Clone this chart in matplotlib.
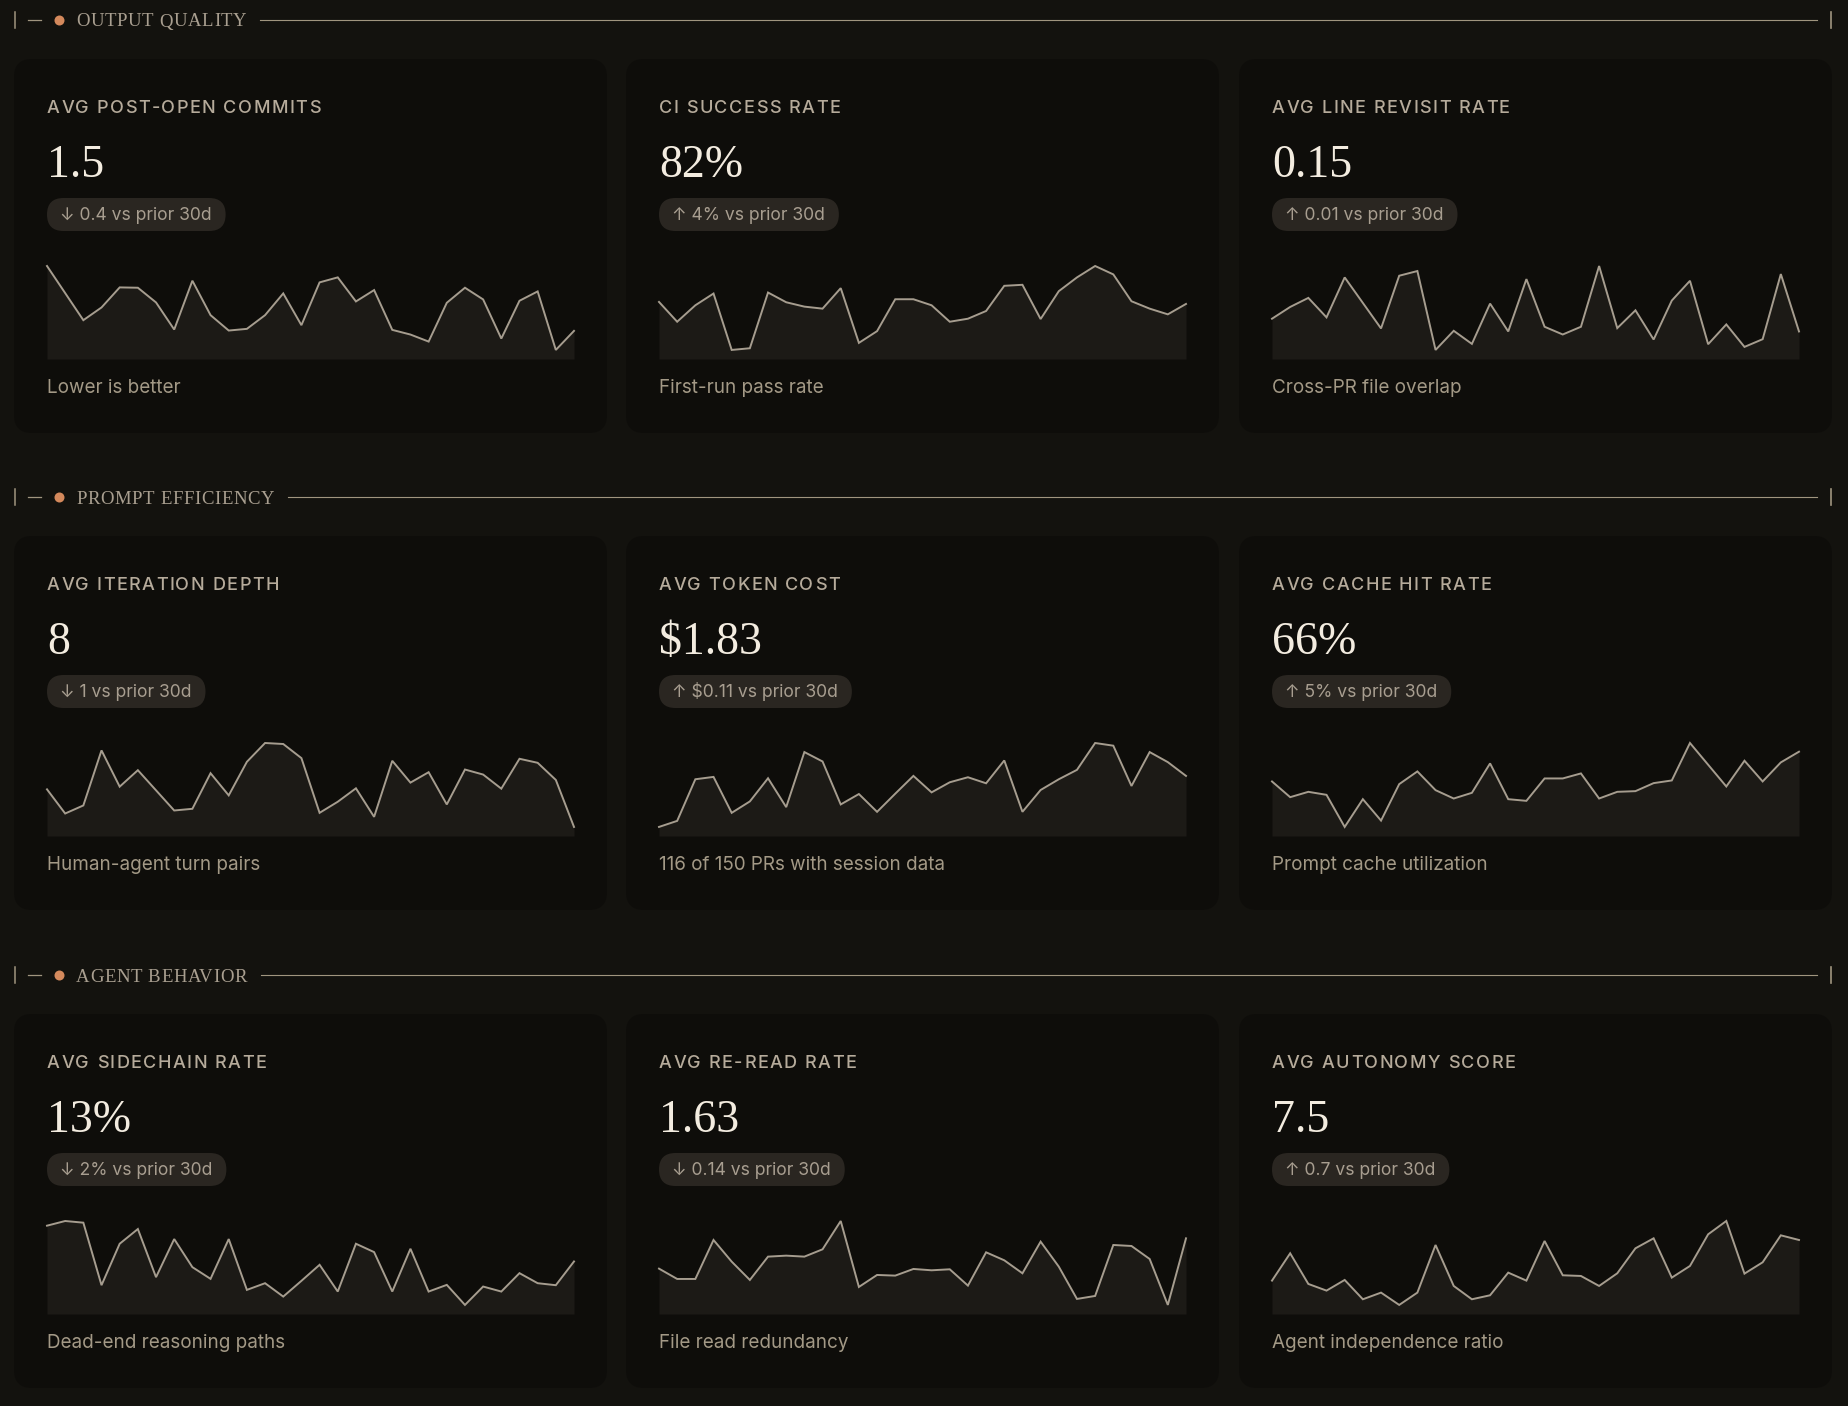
import matplotlib
matplotlib.use("Agg")
import matplotlib.pyplot as plt
from matplotlib.patches import FancyBboxPatch, Circle
from matplotlib.font_manager import FontProperties

W, H = 1848, 1406

# palette
BG = "#13120e"
CARD_BG = "#0e0d0a"
SPARK_FILL = "#1c1a16"
SPARK_LINE = "#a69d8f"
TITLE_C = "#b6ab9b"
VALUE_C = "#f3ece0"
PILL_BG = "#2a2621"
PILL_TXT = "#a89e90"
NOTE_C = "#a39986"
RULE_C = "#a0957f"
DOT_C = "#d4895c"

SANS = ["Inter", "DejaVu Sans"]
SERIF = ["Liberation Serif", "DejaVu Serif"]

section_names = ["OUTPUT QUALITY", "PROMPT EFFICIENCY", "AGENT BEHAVIOR"]

card_titles = ["AVG POST-OPEN COMMITS", "CI SUCCESS RATE", "AVG LINE REVISIT RATE",
               "AVG ITERATION DEPTH", "AVG TOKEN COST", "AVG CACHE HIT RATE",
               "AVG SIDECHAIN RATE", "AVG RE-READ RATE", "AVG AUTONOMY SCORE"]
card_values = ["1.5", "82%", "0.15", "8", "$1.83", "66%", "13%", "1.63", "7.5"]
card_deltas = ["↓ 0.4 vs prior 30d", "↑ 4% vs prior 30d", "↑ 0.01 vs prior 30d",
               "↓ 1 vs prior 30d", "↑ $0.11 vs prior 30d", "↑ 5% vs prior 30d",
               "↓ 2% vs prior 30d", "↓ 0.14 vs prior 30d", "↑ 0.7 vs prior 30d"]
card_notes = ["Lower is better", "First-run pass rate", "Cross-PR file overlap",
              "Human-agent turn pairs", "116 of 150 PRs with session data", "Prompt cache utilization",
              "Dead-end reasoning paths", "File read redundancy", "Agent independence ratio"]

# 30 daily points per sparkline (relative level)
spark_post_open = [278, 197, 116, 154, 214, 213, 169, 88, 234, 131, 85, 90, 131, 196, 101,
                   229, 244, 172, 206, 87, 73, 52, 168, 213, 178, 61, 174, 202, 27, 84]
spark_ci_success = [171, 112, 161, 196, 28, 33, 199, 170, 157, 151, 212, 49, 84, 179, 179,
                    161, 112, 121, 144, 219, 222, 120, 203, 244, 278, 253, 173, 151, 134, 165]
spark_line_revisit = [121, 156, 183, 125, 244, 168, 92, 249, 263, 28, 85, 46, 166, 83, 239,
                      97, 74, 97, 278, 93, 146, 59, 175, 234, 45, 104, 37, 60, 254, 83]
spark_iter_depth = [140, 68, 92, 256, 148, 197, 137, 77, 82, 188, 122, 222, 278, 275, 233,
                    70, 103, 143, 58, 225, 160, 191, 95, 199, 184, 142, 231, 219, 168, 28]
spark_token_cost = [28, 46, 170, 177, 70, 104, 173, 87, 251, 223, 95, 126, 73, 127, 180,
                    131, 161, 176, 158, 226, 73, 138, 170, 198, 278, 270, 150, 251, 221, 180]
spark_cache_hit = [163, 116, 132, 123, 27, 110, 46, 155, 193, 137, 112, 129, 217, 110, 105,
                   172, 172, 187, 112, 132, 134, 158, 166, 278, 213, 148, 225, 163, 220, 252]
spark_sidechain = [263, 277, 272, 85, 209, 253, 109, 223, 139, 104, 223, 71, 91, 51, 98,
                   146, 66, 209, 184, 66, 194, 66, 86, 26, 81, 66, 121, 91, 85, 156]
spark_reread = [135, 104, 104, 221, 156, 101, 171, 174, 171, 193, 278, 80, 116, 114, 134,
                130, 133, 84, 184, 160, 121, 216, 141, 44, 53, 206, 203, 164, 26, 226]
spark_autonomy = [99, 181, 89, 69, 101, 43, 63, 26, 63, 206, 83, 43, 55, 123, 99,
                  218, 115, 113, 83, 121, 196, 226, 108, 143, 238, 278, 120, 154, 235, 221]

card_series = [spark_post_open, spark_ci_success, spark_line_revisit,
               spark_iter_depth, spark_token_cost, spark_cache_hit,
               spark_sidechain, spark_reread, spark_autonomy]

# layout (pixels)
col_x = [14, 626, 1239]
row_top = [59, 536, 1014]
card_w, card_h = 593, 374
pad = 33
spark_w, spark_h = 527, 93

fig = plt.figure(figsize=(W / 100, H / 100), dpi=100, facecolor=BG)
bg = fig.add_axes([0, 0, 1, 1])
bg.set_xlim(0, W)
bg.set_ylim(H, 0)
bg.axis("off")
renderer = fig.canvas.get_renderer()

title_fp = FontProperties(family=SANS, size=13, weight="medium")
value_fp = FontProperties(family=SERIF, size=33)
pill_fp = FontProperties(family=SANS, size=12.6)
note_fp = FontProperties(family=SANS, size=13.6)
head_fp = FontProperties(family=SERIF, size=13.5)


def text_w(s, prop):
    return renderer.get_text_width_height_descent(s, prop, ismath=False)[0]


def tracked(x, y, s, prop, color, track):
    # draw text letter by letter so it gets letter-spacing
    for i, ch in enumerate(s):
        if ch == " ":
            continue
        dx = text_w(s[:i + 1], prop) - text_w(ch, prop)
        bg.text(x + dx + i * track, y, ch, fontproperties=prop, color=color,
                va="baseline", ha="left", parse_math=False)
    return x + text_w(s, prop) + (len(s) - 1) * track


# section headers
for r, name in enumerate(section_names):
    hy = row_top[r] - 39
    bg.plot([14.5, 14.5], [hy - 8, hy + 8], color=RULE_C, lw=1.1)
    bg.plot([28, 41], [hy, hy], color=RULE_C, lw=0.9)
    bg.add_patch(Circle((59.5, hy + 0.5), 5, color=DOT_C, lw=0))
    x_end = tracked(76, hy + 6.5, name, head_fp, "#a99f90", 0.65)
    bg.plot([x_end + 14, 1817], [hy, hy], color=RULE_C, lw=0.8)
    bg.plot([1831, 1831], [hy - 8, hy + 8], color=RULE_C, lw=1.2)

# cards
for k in range(9):
    r, c = divmod(k, 3)
    x0, y0 = col_x[c], row_top[r]
    bg.add_patch(FancyBboxPatch((x0, y0), card_w, card_h,
                                boxstyle="round,pad=0,rounding_size=18",
                                fc=CARD_BG, ec="none"))
    tx = x0 + pad
    tracked(tx, y0 + 54, card_titles[k], title_fp, TITLE_C, 1.45)
    bg.text(tx, y0 + 118, card_values[k], fontproperties=value_fp, color=VALUE_C,
            va="baseline", ha="left", parse_math=False)

    pw = text_w(card_deltas[k], pill_fp) + 27
    bg.add_patch(FancyBboxPatch((tx, y0 + 139), pw, 33,
                                boxstyle="round,pad=0,rounding_size=16.5",
                                fc=PILL_BG, ec="none"))
    bg.text(tx + 13, y0 + 161, card_deltas[k], fontproperties=pill_fp, color=PILL_TXT,
            va="baseline", ha="left", parse_math=False)

    bg.text(tx, y0 + 334, card_notes[k], fontproperties=note_fp, color=NOTE_C,
            va="baseline", ha="left", parse_math=False)

    # sparkline
    vals = card_series[k]
    xs = list(range(len(vals)))
    lo, hi = min(vals), max(vals)
    floor = lo - 0.108 * (hi - lo)
    ax = fig.add_axes([tx / W, 1 - (y0 + 207 + spark_h) / H, spark_w / W, spark_h / H])
    ax.set_facecolor("none")
    ax.fill_between(xs, vals, floor, color=SPARK_FILL, lw=0)
    ax.plot(xs, vals, color=SPARK_LINE, lw=1.4, solid_joinstyle="miter", clip_on=False)
    ax.set_xlim(0, len(vals) - 1)
    ax.set_ylim(floor, hi)
    ax.axis("off")

fig.savefig("out.png", dpi=100, facecolor=BG)
